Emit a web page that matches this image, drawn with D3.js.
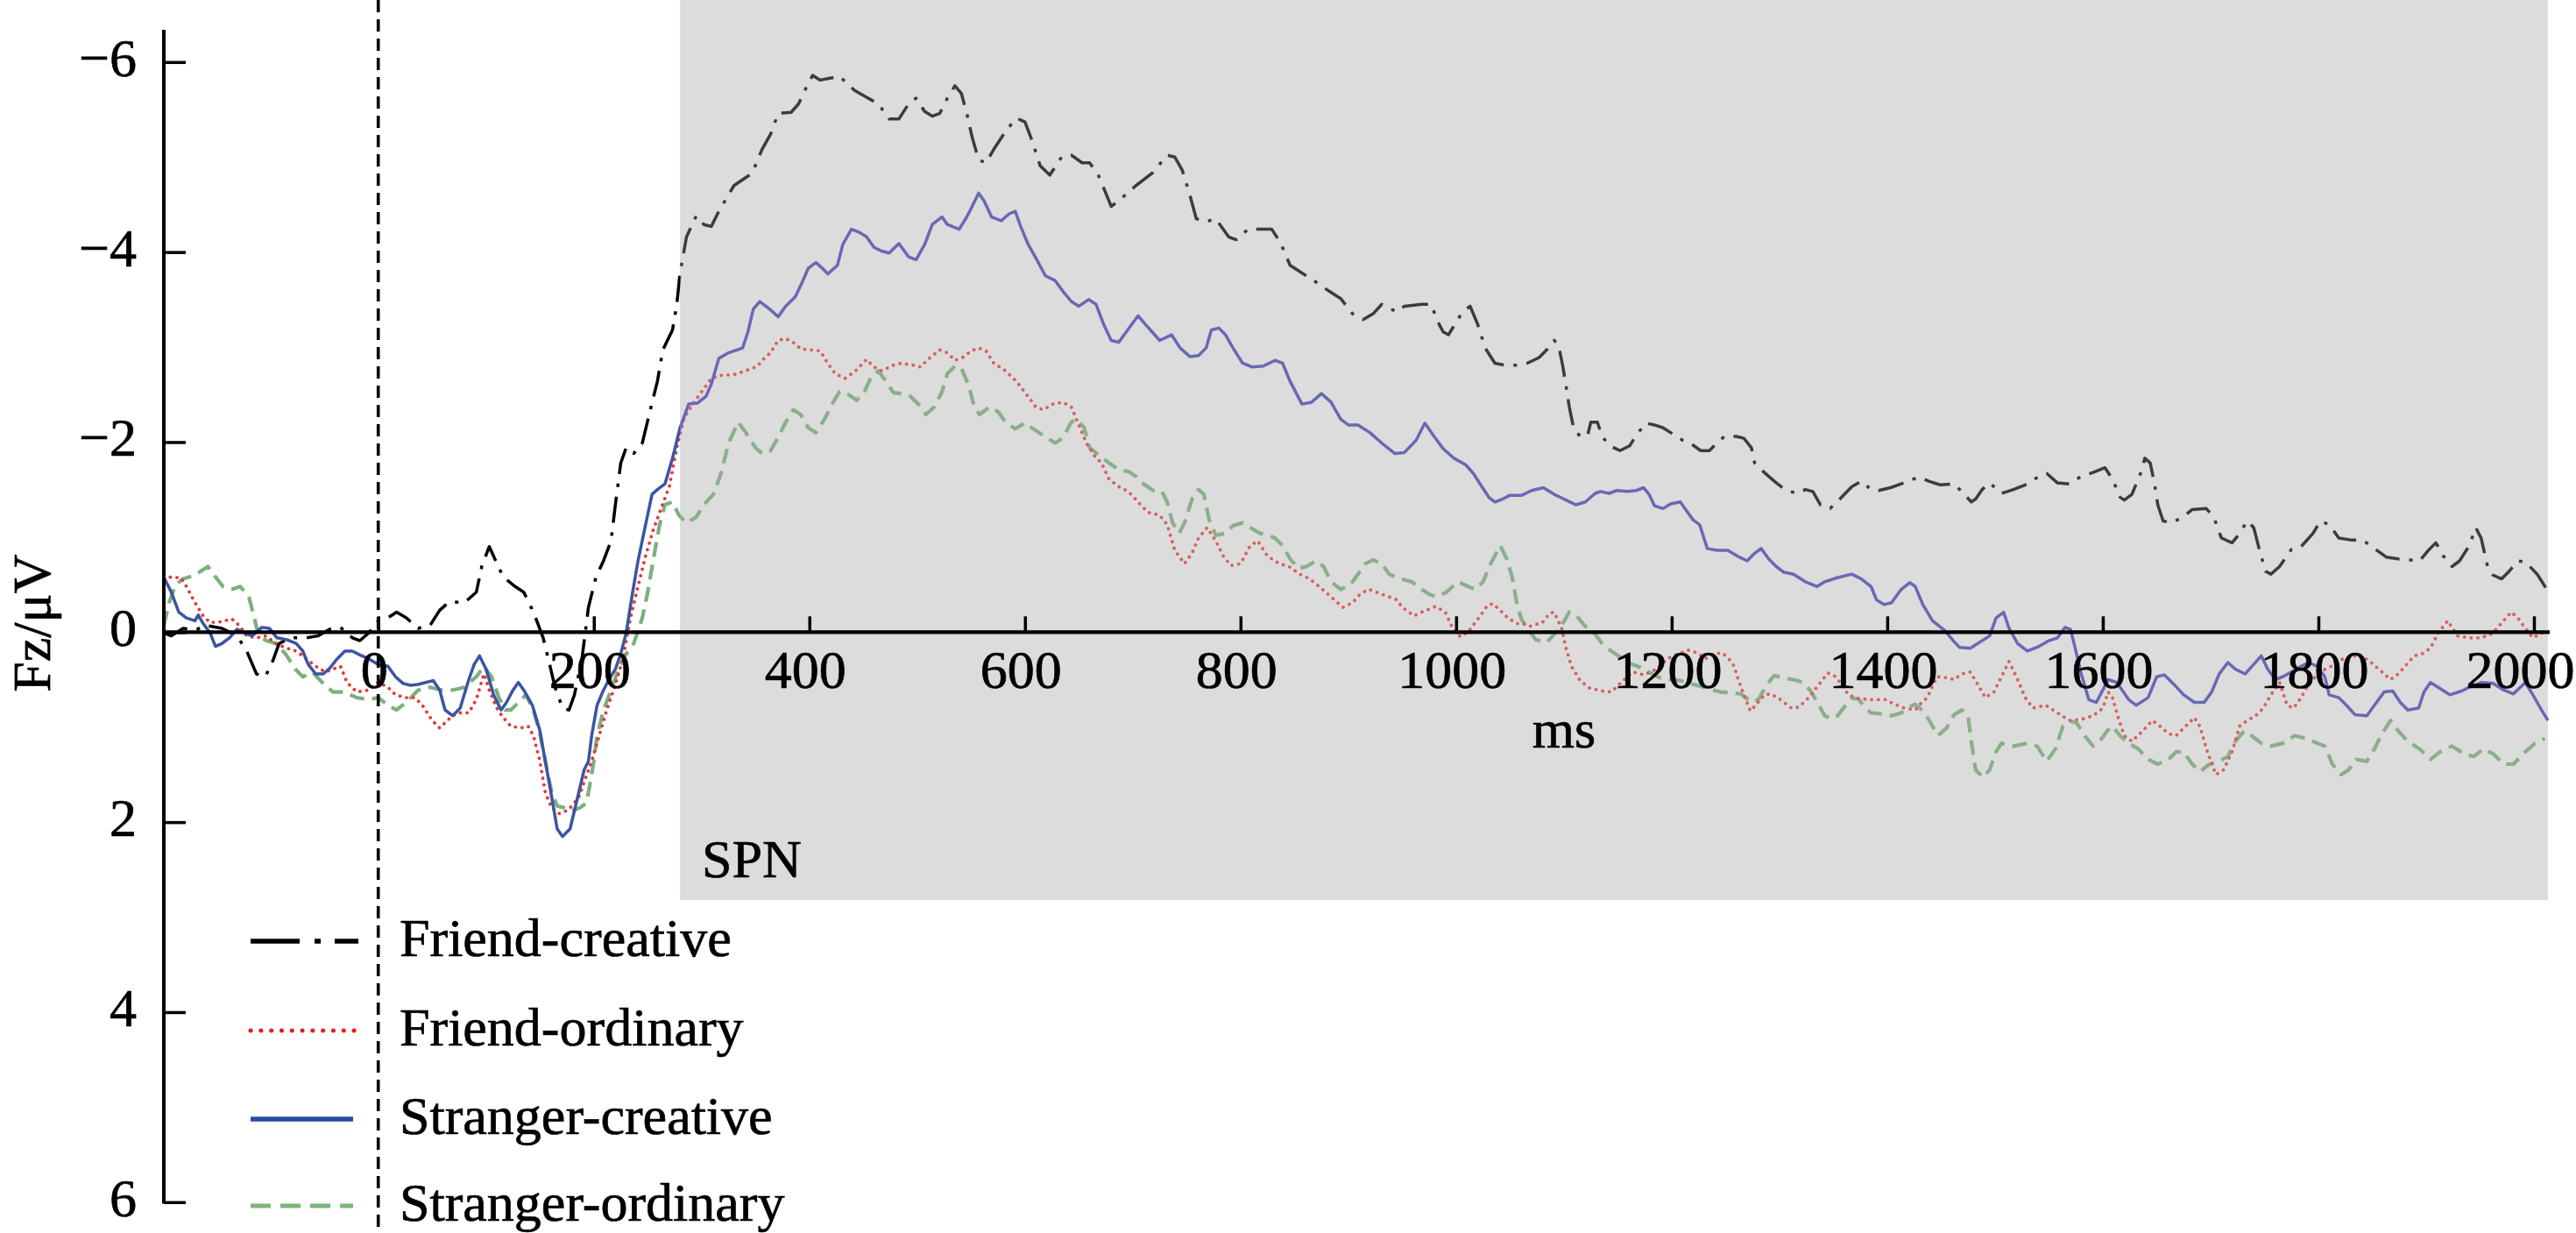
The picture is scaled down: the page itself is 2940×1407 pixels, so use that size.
<!DOCTYPE html>
<html>
<head>
<meta charset="utf-8">
<script src="https://cdn.jsdelivr.net/npm/d3@7"></script>
<style>
html,body{margin:0;padding:0;background:#fff;}
svg{display:block;}
svg text{font-family:"Liberation Serif","Times New Roman","DejaVu Serif",serif !important;fill:#000;stroke:#000;stroke-width:0.7px;}
</style>
</head>
<body>
<svg id="chart" width="2940" height="1407"></svg>
<script>
// ---------------- data ----------------
const xTicks = [0,200,400,600,800,1000,1200,1400,1600,1800,2000];
const yTicks = [-6,-4,-2,0,2,4,6];
const xLabel = "ms";
const yLabel = "Fz/μV";
const windowLabel = "SPN";
const spnWindow = [280, 2013];   // ms
const spnBottom = 2.82;          // µV
const seriesNames = ["Friend-creative","Friend-ordinary","Stranger-creative","Stranger-ordinary"];

// [ms, µV]
const friendCreative = [[-199,0.01],[-192,0.04],[-181,-0.04],[-170,-0.02],[-160,-0.07],[-145,-0.04],[-131,0.04],[-122,0.2],[-113,0.44],[-105,0.47],[-99,0.34],[-92,0.12],[-81,0.06],[-67,0.06],[-56,0.04],[-45,-0.03],[-35,-0.05],[-24,0.06],[-17,0.09],[-9,0.01],[0,-0.12],[9,-0.15],[17,-0.21],[26,-0.15],[37,-0.04],[48,-0.07],[57,-0.23],[66,-0.32],[80,-0.31],[91,-0.42],[96,-0.69],[103,-0.9],[109,-0.75],[116,-0.58],[127,-0.48],[135,-0.42],[144,-0.21],[153,0.06],[159,0.34],[164,0.58],[171,0.8],[177,0.82],[182,0.66],[189,0.28],[195,-0.26],[202,-0.58],[209,-0.75],[216,-0.96],[220,-1.34],[225,-1.78],[230,-1.94],[237,-1.88],[245,-1.99],[252,-2.32],[259,-2.64],[264,-2.97],[273,-3.18],[277,-3.45],[280,-3.78],[286,-4.16],[295,-4.38],[302,-4.29],[309,-4.27],[316,-4.43],[330,-4.7],[347,-4.83],[356,-5.08],[364,-5.24],[371,-5.46],[383,-5.47],[390,-5.56],[397,-5.73],[403,-5.86],[410,-5.81],[419,-5.83],[428,-5.85],[442,-5.7],[453,-5.63],[464,-5.56],[474,-5.4],[483,-5.4],[492,-5.56],[499,-5.62],[507,-5.48],[514,-5.43],[521,-5.46],[528,-5.62],[535,-5.75],[541,-5.67],[546,-5.46],[551,-5.21],[557,-4.97],[564,-4.94],[571,-5.08],[582,-5.27],[592,-5.41],[600,-5.37],[607,-5.16],[614,-4.91],[623,-4.81],[634,-5.0],[643,-5.02],[653,-4.94],[660,-4.94],[668,-4.81],[675,-4.62],[680,-4.48],[689,-4.56],[703,-4.7],[718,-4.83],[732,-5.02],[739,-5.0],[746,-4.86],[752,-4.64],[759,-4.35],[768,-4.32],[777,-4.35],[789,-4.16],[796,-4.13],[807,-4.24],[823,-4.24],[829,-4.24],[837,-4.1],[846,-3.86],[857,-3.78],[868,-3.7],[882,-3.59],[893,-3.51],[904,-3.35],[914,-3.29],[923,-3.35],[931,-3.45],[945,-3.37],[952,-3.43],[968,-3.45],[977,-3.45],[982,-3.29],[988,-3.16],[993,-3.13],[1000,-3.26],[1006,-3.37],[1013,-3.43],[1020,-3.24],[1027,-2.99],[1036,-2.83],[1045,-2.81],[1056,-2.81],[1066,-2.83],[1077,-2.89],[1084,-2.97],[1091,-3.07],[1095,-3.02],[1099,-2.8],[1102,-2.59],[1105,-2.37],[1109,-2.15],[1115,-2.06],[1122,-2.07],[1125,-2.21],[1131,-2.21],[1136,-2.05],[1143,-1.96],[1152,-1.91],[1161,-1.96],[1167,-2.07],[1176,-2.2],[1184,-2.18],[1192,-2.15],[1199,-2.1],[1210,-2.02],[1217,-1.99],[1227,-1.91],[1235,-1.91],[1242,-1.99],[1249,-2.06],[1260,-2.06],[1267,-2.04],[1274,-1.94],[1277,-1.78],[1285,-1.69],[1295,-1.59],[1306,-1.49],[1317,-1.46],[1324,-1.5],[1331,-1.48],[1338,-1.34],[1347,-1.3],[1356,-1.4],[1367,-1.53],[1376,-1.59],[1385,-1.5],[1392,-1.49],[1403,-1.52],[1413,-1.56],[1424,-1.61],[1431,-1.63],[1438,-1.59],[1449,-1.55],[1462,-1.56],[1469,-1.48],[1478,-1.37],[1482,-1.4],[1488,-1.5],[1495,-1.57],[1506,-1.46],[1517,-1.5],[1528,-1.55],[1541,-1.64],[1548,-1.67],[1558,-1.57],[1569,-1.56],[1580,-1.64],[1591,-1.68],[1602,-1.73],[1609,-1.61],[1616,-1.42],[1620,-1.39],[1627,-1.45],[1635,-1.67],[1639,-1.83],[1644,-1.78],[1648,-1.56],[1651,-1.34],[1656,-1.17],[1664,-1.15],[1674,-1.21],[1683,-1.29],[1696,-1.3],[1703,-1.21],[1710,-0.99],[1720,-0.94],[1727,-1.04],[1734,-1.17],[1740,-1.1],[1745,-0.88],[1751,-0.64],[1756,-0.61],[1764,-0.69],[1775,-0.87],[1784,-0.9],[1795,-1.04],[1802,-1.17],[1810,-1.13],[1819,-0.99],[1830,-0.97],[1841,-0.97],[1852,-0.88],[1863,-0.79],[1874,-0.77],[1885,-0.76],[1894,-0.75],[1902,-0.86],[1909,-0.94],[1916,-0.8],[1924,-0.69],[1931,-0.75],[1940,-0.91],[1946,-1.1],[1951,-0.99],[1957,-0.69],[1962,-0.6],[1970,-0.56],[1977,-0.64],[1985,-0.75],[1992,-0.74],[2003,-0.61],[2013,-0.43]];

const friendOrdinary = [[-199,-0.56],[-192,-0.58],[-183,-0.57],[-178,-0.48],[-170,-0.31],[-163,-0.18],[-156,-0.1],[-145,-0.11],[-136,-0.14],[-129,-0.07],[-122,0.04],[-113,0.06],[-104,0.04],[-95,0.12],[-85,0.17],[-76,0.2],[-67,0.28],[-58,0.36],[-49,0.42],[-42,0.39],[-35,0.36],[-29,0.53],[-20,0.63],[-9,0.61],[0,0.53],[9,0.58],[16,0.66],[25,0.69],[34,0.69],[41,0.77],[50,0.93],[57,1.01],[64,0.93],[73,0.85],[84,0.85],[91,0.71],[98,0.44],[103,0.61],[110,0.8],[116,0.9],[123,0.99],[132,1.01],[139,0.99],[144,1.09],[150,1.36],[155,1.69],[161,1.85],[168,1.91],[173,1.89],[178,1.85],[186,1.74],[191,1.58],[198,1.36],[205,1.09],[212,0.82],[220,0.55],[227,0.28],[234,-0.15],[241,-0.48],[248,-0.8],[255,-1.07],[262,-1.29],[270,-1.53],[277,-1.94],[284,-2.26],[293,-2.42],[302,-2.56],[309,-2.67],[316,-2.7],[330,-2.71],[341,-2.75],[352,-2.8],[356,-2.86],[364,-2.94],[371,-3.07],[378,-3.09],[385,-3.05],[392,-2.98],[401,-2.97],[410,-2.96],[417,-2.83],[424,-2.72],[433,-2.67],[442,-2.74],[453,-2.87],[460,-2.79],[467,-2.75],[478,-2.81],[485,-2.83],[496,-2.81],[503,-2.79],[510,-2.87],[521,-2.97],[528,-2.94],[535,-2.86],[542,-2.89],[550,-2.96],[557,-2.99],[564,-2.96],[571,-2.83],[582,-2.75],[592,-2.64],[603,-2.48],[610,-2.37],[617,-2.34],[626,-2.4],[635,-2.42],[643,-2.37],[650,-2.18],[657,-1.99],[664,-1.86],[671,-1.78],[678,-1.61],[687,-1.53],[696,-1.48],[705,-1.37],[714,-1.26],[725,-1.23],[732,-1.13],[739,-0.86],[748,-0.72],[755,-0.83],[761,-0.99],[769,-1.1],[777,-0.96],[784,-0.8],[791,-0.7],[800,-0.72],[809,-0.91],[816,-0.96],[825,-0.8],[836,-0.72],[845,-0.69],[855,-0.61],[864,-0.56],[873,-0.48],[884,-0.37],[895,-0.26],[904,-0.31],[911,-0.4],[919,-0.45],[931,-0.4],[945,-0.34],[950,-0.26],[961,-0.17],[968,-0.21],[981,-0.27],[990,-0.21],[996,-0.06],[1004,0.05],[1012,-0.01],[1017,-0.09],[1023,-0.18],[1029,-0.28],[1034,-0.3],[1040,-0.24],[1046,-0.17],[1056,-0.09],[1062,-0.09],[1068,-0.06],[1080,-0.1],[1087,-0.2],[1091,-0.21],[1098,-0.04],[1102,0.17],[1107,0.36],[1115,0.51],[1124,0.59],[1136,0.62],[1144,0.63],[1155,0.51],[1164,0.42],[1174,0.45],[1186,0.39],[1196,0.28],[1208,0.22],[1216,0.19],[1224,0.22],[1231,0.28],[1239,0.23],[1247,0.22],[1253,0.28],[1258,0.36],[1262,0.51],[1267,0.66],[1273,0.83],[1278,0.77],[1286,0.66],[1292,0.65],[1301,0.71],[1311,0.8],[1318,0.79],[1328,0.68],[1336,0.56],[1345,0.43],[1351,0.46],[1357,0.54],[1364,0.66],[1373,0.7],[1385,0.71],[1398,0.71],[1407,0.76],[1416,0.8],[1426,0.82],[1432,0.74],[1437,0.69],[1446,0.47],[1455,0.48],[1462,0.5],[1469,0.44],[1477,0.42],[1484,0.55],[1491,0.69],[1499,0.63],[1506,0.47],[1513,0.31],[1521,0.5],[1528,0.69],[1535,0.8],[1547,0.77],[1558,0.85],[1569,0.93],[1580,0.92],[1591,0.88],[1600,0.8],[1605,0.63],[1609,0.69],[1615,0.93],[1620,1.09],[1627,1.15],[1637,1.04],[1646,0.93],[1653,0.99],[1661,1.07],[1668,1.09],[1675,1.01],[1685,0.9],[1690,0.99],[1697,1.26],[1705,1.5],[1712,1.45],[1720,1.26],[1727,0.99],[1734,0.93],[1742,0.88],[1749,0.8],[1756,0.66],[1764,0.53],[1771,0.77],[1777,0.8],[1784,0.69],[1791,0.55],[1801,0.42],[1812,0.36],[1823,0.28],[1830,0.28],[1837,0.23],[1848,0.31],[1859,0.42],[1867,0.5],[1874,0.44],[1882,0.34],[1889,0.25],[1896,0.23],[1904,0.17],[1911,0.01],[1920,-0.12],[1929,0.04],[1940,0.06],[1951,0.06],[1962,0.01],[1974,-0.15],[1979,-0.21],[1985,-0.15],[1992,-0.04],[1999,0.06],[2007,0.01],[2013,-0.02]];

const strangerCreative = [[-199,-0.58],[-192,-0.42],[-185,-0.21],[-178,-0.15],[-170,-0.12],[-167,-0.18],[-163,-0.1],[-156,0.01],[-151,0.15],[-145,0.12],[-138,0.06],[-131,-0.03],[-124,0.01],[-117,0.04],[-108,-0.05],[-101,-0.04],[-94,0.06],[-85,0.08],[-76,0.12],[-70,0.2],[-65,0.34],[-58,0.44],[-51,0.44],[-45,0.38],[-38,0.28],[-31,0.2],[-24,0.2],[-17,0.24],[-9,0.28],[0,0.34],[9,0.36],[16,0.47],[23,0.54],[30,0.56],[37,0.55],[44,0.53],[51,0.51],[57,0.61],[62,0.82],[69,0.88],[76,0.8],[84,0.5],[89,0.34],[94,0.25],[100,0.39],[107,0.66],[114,0.82],[119,0.74],[125,0.61],[130,0.53],[135,0.61],[143,0.77],[150,1.04],[155,1.36],[161,1.74],[166,2.07],[171,2.15],[178,2.07],[186,1.69],[191,1.45],[195,1.36],[198,1.09],[203,0.77],[209,0.61],[214,0.5],[220,0.39],[225,0.23],[230,0.01],[236,-0.42],[241,-0.75],[248,-1.13],[254,-1.45],[259,-1.5],[266,-1.56],[273,-1.83],[280,-2.15],[288,-2.4],[296,-2.41],[304,-2.48],[309,-2.61],[316,-2.88],[325,-2.94],[338,-2.99],[343,-3.16],[348,-3.4],[354,-3.48],[363,-3.4],[371,-3.32],[378,-3.43],[387,-3.53],[394,-3.7],[399,-3.83],[406,-3.89],[412,-3.83],[417,-3.77],[426,-3.86],[431,-4.08],[439,-4.24],[446,-4.21],[453,-4.16],[460,-4.05],[467,-4.01],[474,-3.99],[483,-4.09],[492,-3.95],[499,-3.92],[507,-4.08],[514,-4.29],[523,-4.37],[528,-4.29],[539,-4.24],[546,-4.37],[551,-4.48],[557,-4.62],[562,-4.54],[569,-4.37],[578,-4.33],[585,-4.4],[591,-4.43],[596,-4.27],[603,-4.08],[610,-3.94],[619,-3.75],[628,-3.7],[635,-3.59],[643,-3.48],[650,-3.43],[659,-3.5],[666,-3.45],[673,-3.24],[680,-3.07],[687,-3.05],[694,-3.16],[705,-3.33],[714,-3.21],[725,-3.07],[736,-3.13],[744,-2.99],[753,-2.9],[761,-2.91],[768,-2.99],[773,-3.18],[780,-3.2],[786,-3.13],[793,-2.99],[802,-2.83],[811,-2.79],[821,-2.8],[832,-2.86],[839,-2.83],[846,-2.64],[857,-2.4],[866,-2.42],[875,-2.51],[884,-2.42],[893,-2.24],[900,-2.18],[909,-2.18],[920,-2.1],[931,-1.99],[943,-1.88],[952,-1.89],[963,-2.02],[971,-2.2],[979,-2.07],[988,-1.93],[998,-1.83],[1009,-1.76],[1016,-1.67],[1024,-1.53],[1031,-1.41],[1036,-1.37],[1043,-1.4],[1050,-1.44],[1061,-1.44],[1070,-1.49],[1081,-1.52],[1091,-1.45],[1102,-1.39],[1111,-1.34],[1120,-1.37],[1129,-1.46],[1134,-1.48],[1142,-1.46],[1149,-1.49],[1159,-1.48],[1167,-1.49],[1174,-1.52],[1179,-1.45],[1184,-1.33],[1192,-1.3],[1199,-1.35],[1208,-1.37],[1213,-1.29],[1220,-1.18],[1226,-1.13],[1233,-0.88],[1242,-0.86],[1252,-0.86],[1261,-0.8],[1270,-0.75],[1277,-0.83],[1283,-0.88],[1290,-0.77],[1297,-0.69],[1304,-0.63],[1313,-0.61],[1324,-0.53],[1335,-0.48],[1342,-0.53],[1353,-0.57],[1367,-0.61],[1376,-0.56],[1385,-0.48],[1390,-0.34],[1397,-0.29],[1404,-0.31],[1413,-0.45],[1421,-0.52],[1426,-0.48],[1433,-0.29],[1442,-0.12],[1453,-0.02],[1462,0.1],[1467,0.16],[1477,0.17],[1484,0.12],[1495,0.04],[1501,-0.15],[1508,-0.21],[1513,-0.04],[1521,0.12],[1530,0.2],[1541,0.15],[1550,0.09],[1558,0.06],[1565,-0.05],[1570,-0.03],[1574,0.15],[1580,0.44],[1587,0.71],[1594,0.74],[1600,0.61],[1605,0.5],[1613,0.53],[1624,0.71],[1631,0.77],[1642,0.69],[1650,0.47],[1657,0.45],[1666,0.55],[1675,0.66],[1685,0.74],[1694,0.74],[1701,0.63],[1708,0.44],[1716,0.32],[1723,0.39],[1732,0.44],[1740,0.34],[1747,0.25],[1753,0.39],[1760,0.5],[1767,0.47],[1775,0.42],[1784,0.36],[1791,0.32],[1799,0.36],[1806,0.47],[1810,0.66],[1819,0.69],[1826,0.77],[1834,0.87],[1845,0.88],[1852,0.77],[1861,0.63],[1869,0.62],[1876,0.74],[1883,0.82],[1893,0.8],[1898,0.63],[1904,0.53],[1911,0.58],[1922,0.66],[1933,0.62],[1940,0.58],[1951,0.53],[1962,0.54],[1972,0.61],[1981,0.65],[1992,0.53],[1999,0.66],[2007,0.82],[2013,0.93]];

const strangerOrdinary = [[-199,-0.07],[-194,-0.31],[-188,-0.5],[-181,-0.56],[-170,-0.6],[-158,-0.69],[-151,-0.58],[-144,-0.48],[-136,-0.45],[-128,-0.48],[-120,-0.37],[-115,-0.15],[-111,0.04],[-104,0.09],[-95,0.12],[-86,0.23],[-77,0.39],[-70,0.47],[-61,0.42],[-52,0.53],[-42,0.63],[-31,0.63],[-20,0.69],[-9,0.71],[0,0.69],[9,0.77],[17,0.82],[26,0.74],[37,0.61],[48,0.58],[59,0.61],[69,0.61],[80,0.58],[91,0.47],[98,0.36],[105,0.47],[112,0.69],[118,0.82],[123,0.82],[130,0.74],[137,0.66],[144,0.82],[150,1.07],[155,1.36],[161,1.69],[166,1.83],[173,1.85],[180,1.88],[187,1.85],[193,1.8],[196,1.63],[200,1.36],[203,1.09],[209,0.82],[216,0.61],[223,0.39],[230,0.23],[237,0.12],[245,-0.15],[250,-0.42],[255,-0.75],[261,-1.13],[266,-1.34],[273,-1.37],[279,-1.23],[286,-1.15],[295,-1.21],[302,-1.34],[311,-1.45],[318,-1.67],[325,-1.99],[334,-2.21],[341,-2.1],[350,-1.94],[356,-1.88],[364,-1.91],[371,-2.05],[378,-2.21],[385,-2.34],[392,-2.29],[399,-2.15],[406,-2.1],[414,-2.24],[421,-2.4],[428,-2.53],[435,-2.51],[444,-2.44],[451,-2.53],[458,-2.7],[464,-2.75],[471,-2.64],[478,-2.52],[485,-2.51],[494,-2.48],[501,-2.4],[508,-2.29],[516,-2.37],[523,-2.53],[528,-2.72],[535,-2.8],[541,-2.78],[548,-2.59],[553,-2.37],[558,-2.29],[567,-2.37],[575,-2.32],[582,-2.21],[591,-2.14],[600,-2.2],[609,-2.13],[617,-2.07],[628,-1.99],[635,-2.04],[643,-2.21],[648,-2.24],[655,-2.15],[660,-1.94],[669,-1.86],[678,-1.78],[687,-1.71],[696,-1.69],[703,-1.64],[710,-1.56],[719,-1.49],[727,-1.48],[732,-1.37],[737,-1.15],[743,-1.04],[748,-1.15],[755,-1.4],[761,-1.5],[766,-1.45],[771,-1.18],[777,-1.02],[786,-1.04],[793,-1.12],[802,-1.15],[809,-1.1],[818,-1.04],[825,-1.02],[832,-0.99],[839,-0.91],[846,-0.77],[854,-0.67],[861,-0.69],[870,-0.75],[877,-0.69],[884,-0.53],[893,-0.45],[902,-0.5],[909,-0.61],[916,-0.72],[923,-0.76],[931,-0.72],[938,-0.61],[948,-0.56],[959,-0.53],[968,-0.45],[975,-0.4],[982,-0.37],[991,-0.42],[1002,-0.53],[1011,-0.48],[1018,-0.45],[1025,-0.53],[1032,-0.72],[1041,-0.91],[1047,-0.77],[1052,-0.58],[1057,-0.26],[1061,-0.13],[1066,-0.04],[1074,0.08],[1084,0.11],[1096,-0.04],[1102,-0.15],[1105,-0.21],[1112,-0.17],[1119,-0.07],[1129,0.02],[1136,0.13],[1144,0.2],[1152,0.26],[1161,0.33],[1171,0.37],[1180,0.43],[1189,0.48],[1199,0.5],[1208,0.51],[1217,0.54],[1227,0.57],[1236,0.6],[1245,0.63],[1255,0.64],[1264,0.65],[1270,0.7],[1276,0.74],[1281,0.7],[1286,0.6],[1292,0.5],[1295,0.46],[1304,0.48],[1317,0.51],[1323,0.54],[1329,0.62],[1336,0.76],[1342,0.88],[1348,0.91],[1354,0.88],[1360,0.79],[1367,0.7],[1373,0.7],[1379,0.79],[1385,0.85],[1395,0.86],[1404,0.88],[1413,0.85],[1420,0.79],[1426,0.76],[1432,0.82],[1438,0.91],[1442,0.99],[1447,1.09],[1455,1.01],[1462,0.87],[1469,0.82],[1475,0.88],[1478,1.15],[1482,1.45],[1489,1.53],[1495,1.45],[1501,1.26],[1506,1.17],[1517,1.2],[1530,1.17],[1539,1.2],[1548,1.36],[1556,1.23],[1563,0.99],[1569,0.93],[1576,0.96],[1583,1.09],[1591,1.2],[1596,1.17],[1604,1.04],[1609,0.99],[1616,1.09],[1624,1.17],[1633,1.23],[1642,1.34],[1651,1.39],[1661,1.34],[1668,1.26],[1675,1.26],[1683,1.39],[1690,1.47],[1699,1.39],[1708,1.36],[1716,1.31],[1723,1.15],[1731,1.04],[1738,1.09],[1747,1.17],[1756,1.2],[1767,1.17],[1778,1.09],[1789,1.12],[1799,1.17],[1806,1.2],[1813,1.39],[1821,1.5],[1828,1.45],[1835,1.34],[1845,1.36],[1852,1.23],[1859,1.07],[1867,0.93],[1874,1.04],[1883,1.15],[1894,1.23],[1904,1.34],[1913,1.26],[1924,1.2],[1935,1.28],[1944,1.31],[1953,1.23],[1962,1.28],[1972,1.39],[1981,1.39],[1992,1.26],[2001,1.17],[2010,1.12]];

// ---------------- drawing ----------------
const W = 2940, H = 1407;
const FONT = 62;
const SERIF = "'Liberation Serif','Times New Roman','DejaVu Serif',serif";
const svg = d3.select("#chart");

const x = d3.scaleLinear().domain([0, 2000]).range([431.7, 2892]);
const y = d3.scaleLinear().domain([-6, 6]).range([70.8, 1371.8]);
const axisX0 = x(-200) + 1.3;   // y-axis position (start of epoch)

const seriesData = [friendCreative, friendOrdinary, strangerCreative, strangerOrdinary];
const styles = [
  {out:"#000000", inn:"#3c3c3c", w:3.5, dash:"30 11 4 11", cap:"butt",
   lg:{color:"#000000", w:5.5, dash:"56 17 7 16", cap:"butt", x2:409}},
  {out:"#e2393a", inn:"#d8615f", w:3.8, dash:"0.1 7.6", cap:"round",
   lg:{color:"#e31e1e", w:5, dash:"0.1 11.7", cap:"round", x2:405}},
  {out:"#3a54a3", inn:"#6968b6", w:3.5, dash:null, cap:"butt",
   lg:{color:"#274c9b", w:5.5, dash:null, cap:"butt", x2:403}},
  {out:"#7cb07c", inn:"#8aaf8a", w:4.2, dash:"17 9", cap:"butt",
   lg:{color:"#7db37d", w:5, dash:"23 11", cap:"butt", x2:403}}
];

// shaded SPN window
svg.append("rect")
  .attr("x", x(spnWindow[0])).attr("y", 0)
  .attr("width", x(spnWindow[1]) - x(spnWindow[0]))
  .attr("height", y(spnBottom))
  .attr("fill", "#dcdcdc");

const defs = svg.append("defs");
defs.append("clipPath").attr("id", "clipOut").append("rect")
  .attr("x", 0).attr("y", 0).attr("width", x(spnWindow[0])).attr("height", H);
defs.append("clipPath").attr("id", "clipIn").append("rect")
  .attr("x", x(spnWindow[0])).attr("y", 0).attr("width", W).attr("height", H);

const line = d3.line().x(d => x(d[0])).y(d => y(d[1]));

const drawOrder = [3, 1, 0, 2];
drawOrder.forEach(i => {
  const s = styles[i];
  ["clipOut", "clipIn"].forEach(cp => {
    const p = svg.append("path")
      .datum(seriesData[i])
      .attr("d", line)
      .attr("fill", "none")
      .attr("stroke", cp === "clipOut" ? s.out : s.inn)
      .attr("stroke-width", s.w)
      .attr("stroke-linejoin", "round")
      .attr("stroke-linecap", s.cap)
      .attr("clip-path", `url(#${cp})`);
    if (s.dash) p.attr("stroke-dasharray", s.dash);
  });
});

// y axis
const gy = svg.append("g")
  .attr("transform", `translate(${axisX0},0)`)
  .call(d3.axisLeft(y).tickValues(yTicks).tickSizeInner(-25).tickSizeOuter(0).tickPadding(31))
  .attr("font-size", FONT).attr("font-family", SERIF);
gy.select(".domain").remove();
gy.selectAll(".tick line").attr("stroke", "#000").attr("stroke-width", 3.5);
gy.selectAll(".tick text").attr("dy", "0.25em").attr("fill", "#000")
  .attr("font-size", FONT).style("font-family", SERIF);
svg.append("line")
  .attr("x1", axisX0).attr("x2", axisX0)
  .attr("y1", 34).attr("y2", y(6) + 1.75)
  .attr("stroke", "#000").attr("stroke-width", 4);

// x axis
const gx = svg.append("g")
  .attr("transform", `translate(0,${y(0)})`)
  .call(d3.axisBottom(x).tickValues(xTicks).tickSizeInner(-18).tickSizeOuter(0).tickPadding(20).tickFormat(d3.format("d")))
  .attr("font-size", FONT).attr("font-family", SERIF);
gx.select(".domain").remove();
gx.selectAll(".tick line").attr("stroke", "#000").attr("stroke-width", 3.5);
gx.selectAll(".tick text").attr("fill", "#000")
  .attr("font-size", FONT).style("font-family", SERIF)
  .attr("dx", d => d === 2000 ? -16 : -5);
svg.append("line")
  .attr("x1", axisX0 - 2).attr("x2", x(spnWindow[1]) + 2)
  .attr("y1", y(0)).attr("y2", y(0))
  .attr("stroke", "#000").attr("stroke-width", 4.2);

// stimulus onset dashed line
svg.append("line")
  .attr("x1", x(0)).attr("x2", x(0))
  .attr("y1", 0).attr("y2", H)
  .attr("stroke", "#000").attr("stroke-width", 3.6)
  .attr("stroke-dasharray", "14 8");

// labels
svg.append("text").attr("x", 1785).attr("y", 853)
  .attr("text-anchor", "middle").attr("font-size", FONT).style("font-family", SERIF).text(xLabel);
svg.append("text").attr("x", 801).attr("y", 1001)
  .attr("font-size", FONT).style("font-family", SERIF).text(windowLabel);
svg.append("text")
  .attr("transform", "translate(57,711) rotate(-90)")
  .attr("text-anchor", "middle").attr("font-size", FONT).style("font-family", SERIF).text(yLabel);

// legend
const lgY = [1074, 1176, 1277, 1376];
const lg = svg.append("g");
seriesNames.forEach((name, i) => {
  const s = styles[i].lg;
  const ln = lg.append("line")
    .attr("x1", 286).attr("x2", s.x2)
    .attr("y1", lgY[i]).attr("y2", lgY[i])
    .attr("stroke", s.color).attr("stroke-width", s.w)
    .attr("stroke-linecap", s.cap);
  if (s.dash) ln.attr("stroke-dasharray", s.dash);
  lg.append("text")
    .attr("x", 456).attr("y", lgY[i] + 16.5)
    .attr("font-size", FONT).style("font-family", SERIF).text(name);
});
</script>
</body>
</html>
